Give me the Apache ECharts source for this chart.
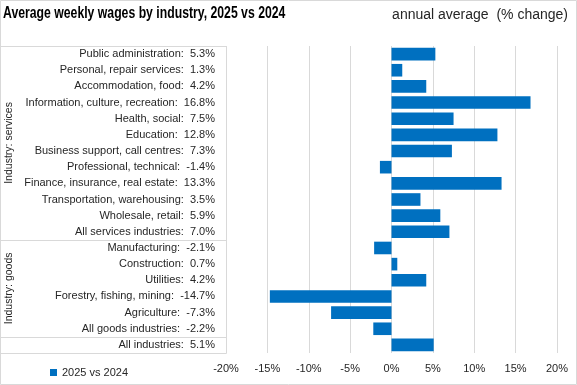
<!DOCTYPE html>
<html>
<head>
<meta charset="utf-8">
<script src="https://cdn.jsdelivr.net/npm/echarts@6/dist/echarts.min.js"></script>
<style>
html,body{margin:0;padding:0;background:#fff;}
#c{width:577px;height:385px;}
</style>
</head>
<body>
<div id="c"></div>
<script>
const categories = [
  "Public administration","Personal, repair services","Accommodation, food",
  "Information, culture, recreation","Health, social","Education",
  "Business support, call centres","Professional, technical",
  "Finance, insurance, real estate","Transportation, warehousing",
  "Wholesale, retail","All services industries",
  "Manufacturing","Construction","Utilities","Forestry, fishing, mining",
  "Agriculture","All goods industries","All industries"
];
const values = [5.3,1.3,4.2,16.8,7.5,12.8,7.3,-1.4,13.3,3.5,5.9,7.0,
  -2.1,0.7,4.2,-14.7,-7.3,-2.2,5.1];
const groups = [
  {name:"Industry: services", from:0, to:11},
  {name:"Industry: goods", from:12, to:17},
  {name:"", from:18, to:18}
];
const seriesName = "2025 vs 2024";
const xTicks = {min:-20, max:20, interval:5};
const titleText = "Average weekly wages by industry, 2025 vs 2024";
const subtitleText = "annual average  (% change)";

const FONT = "'Liberation Sans',Arial,sans-serif";
const TXT = '#262626';
const GRID = '#d9d9d9';

const chart = echarts.init(document.getElementById('c'), null, {renderer:'canvas'});
const valMap = {};
categories.forEach((c,i)=>valMap[c]=values[i]);

chart.setOption({
  animation:false,
  textStyle:{fontFamily:FONT},
  title:[
    {text:subtitleText, right:4, top:3, textStyle:{fontSize:14, fontWeight:'normal', color:TXT, fontFamily:FONT}}
  ],
  legend:{data:[seriesName], left:45, top:362, itemWidth:7, itemHeight:7, itemGap:4,
    icon:'rect', textStyle:{fontSize:11, color:TXT, fontFamily:FONT}},
  grid:{left:226, right:20, top:46, bottom:32, containLabel:false},
  xAxis:{type:'value', min:xTicks.min, max:xTicks.max, interval:xTicks.interval,
    axisLine:{show:false}, axisTick:{show:false},
    axisLabel:{formatter:'{value}%', fontSize:11, color:TXT, margin:10, fontFamily:FONT},
    splitLine:{lineStyle:{color:GRID, width:1}}},
  yAxis:{type:'category', data:categories, inverse:true,
    axisLine:{show:false}, axisTick:{show:false},
    axisLabel:{fontSize:11, color:TXT, margin:11, fontFamily:FONT,
      formatter:(v)=>v+':  '+valMap[v].toFixed(1)+'%'}},
  series:[{name:seriesName, type:'bar', data:values, barCategoryGap:'22%',
    itemStyle:{color:'#0070C0'}}]
});

function drawDecor(){
  const yp = i => chart.convertToPixel({yAxisIndex:0}, categories[i]);
  const band = yp(1)-yp(0);
  const top = yp(0)-band/2;
  const xl = Math.round(chart.convertToPixel({xAxisIndex:0}, xTicks.min))+0.5;
  const els = [];
  const hline = (y)=>{ y=Math.round(y)+0.5; els.push({type:'line', shape:{x1:0,y1:y,x2:xl,y2:y}, style:{stroke:GRID, lineWidth:1}}); };
  hline(top);
  groups.forEach(g=>{ hline(yp(g.to)+band/2); });
  els.push({type:'line', shape:{x1:xl,y1:Math.round(top)+0.5,x2:xl,y2:Math.round(yp(categories.length-1)+band/2)+0.5}, style:{stroke:GRID,lineWidth:1}});
  groups.forEach(g=>{
    if(!g.name) return;
    const mid = (yp(g.from)+yp(g.to))/2;
    els.push({type:'text', x:9, y:mid, rotation:Math.PI/2,
      style:{text:g.name, fontSize:10.5, fill:TXT, fontFamily:FONT, align:'center', verticalAlign:'middle'}});
  });
  els.push({type:'text', x:3, y:14, scaleX:0.765,
    style:{text:titleText, fontSize:16, fontWeight:'bold', fill:'#000', fontFamily:FONT, align:'left', verticalAlign:'middle'}});
  els.push({type:'rect', shape:{x:0.5,y:0.5,width:576,height:384}, style:{fill:'none', stroke:GRID, lineWidth:1}, silent:true});
  chart.setOption({graphic:els});
}
drawDecor();
</script>
</body>
</html>
